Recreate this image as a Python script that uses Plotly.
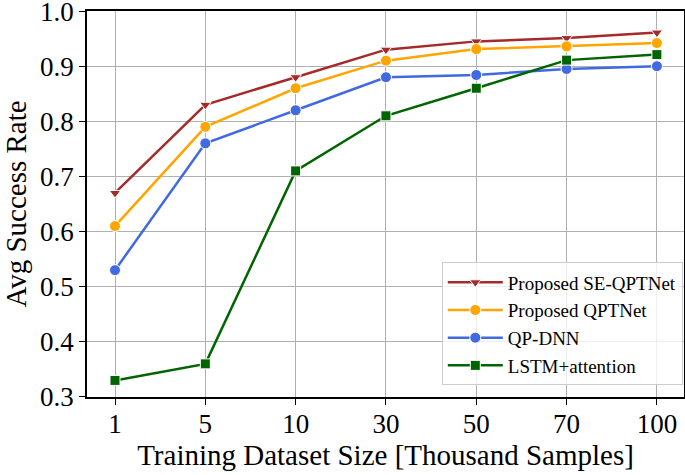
import plotly.graph_objects as go

x_labels = ["1", "5", "10", "30", "50", "70", "100"]
se_qptnet = [0.67, 0.83, 0.88, 0.93, 0.945, 0.951, 0.961]
qptnet = [0.61, 0.79, 0.86, 0.91, 0.931, 0.936, 0.942]
qp_dnn = [0.53, 0.76, 0.82, 0.88, 0.884, 0.895, 0.90]
lstm_att = [0.33, 0.36, 0.71, 0.81, 0.86, 0.911, 0.921]
y_ticks = [0.3, 0.4, 0.5, 0.6, 0.7, 0.8, 0.9, 1.0]

series = [
    ("Proposed SE-QPTNet", se_qptnet, "#a52a2a", "triangle-down", 10),
    ("Proposed QPTNet", qptnet, "#ffa500", "circle", 11),
    ("QP-DNN", qp_dnn, "#4169e1", "circle", 11),
    ("LSTM+attention", lstm_att, "#006400", "square", 10),
]

xi = list(range(len(x_labels)))
fig = go.Figure()
for name, vals, col, sym, sz in series:
    fig.add_trace(go.Scatter(
        x=xi, y=vals, name=name, mode="lines+markers",
        line=dict(color=col, width=2.5),
        marker=dict(symbol=sym, size=sz, color=col, line=dict(color="white", width=1)),
    ))

font_family = "Liberation Serif, Times New Roman, serif"
fig.update_layout(
    width=685, height=475,
    margin=dict(l=87, r=1, t=11, b=78),
    paper_bgcolor="white", plot_bgcolor="white",
    font=dict(family=font_family, color="black"),
    showlegend=True,
    legend=dict(
        x=0.998, y=0.03, xanchor="right", yanchor="bottom",
        bgcolor="rgba(255,255,255,0.8)", bordercolor="#cccccc", borderwidth=1,
        font=dict(family=font_family, size=19, color="black"),
        tracegroupgap=0, itemwidth=55,
    ),
)
fig.update_xaxes(
    range=[-0.31, 6.3], automargin=False, ticklabeloverflow="allow",
    tickmode="array", tickvals=xi, ticktext=x_labels,
    tickfont=dict(size=27), showgrid=True, gridcolor="#b0b0b0", gridwidth=1,
    showline=True, linecolor="black", linewidth=1.5, mirror=True,
    ticks="outside", ticklen=6, tickcolor="black", ticklabelstandoff=-4,
    title=dict(text="Training Dataset Size [Thousand Samples]", font=dict(size=29), standoff=6),
    zeroline=False,
)
fig.update_yaxes(
    range=[0.2999, 1.0001], automargin=False, ticklabeloverflow="allow",
    tickmode="array", tickvals=y_ticks,
    ticktext=[f"{v:.1f}" for v in y_ticks],
    tickfont=dict(size=27), showgrid=True, gridcolor="#b0b0b0", gridwidth=1,
    showline=True, linecolor="black", linewidth=1.5, mirror=True,
    ticks="outside", ticklen=6, tickcolor="black",
    title=dict(text="Avg Success Rate", font=dict(size=29), standoff=19),
    zeroline=False,
)
fig.write_html("out.html", config={"displayModeBar": False},
               post_script="document.body.style.margin='0';")
